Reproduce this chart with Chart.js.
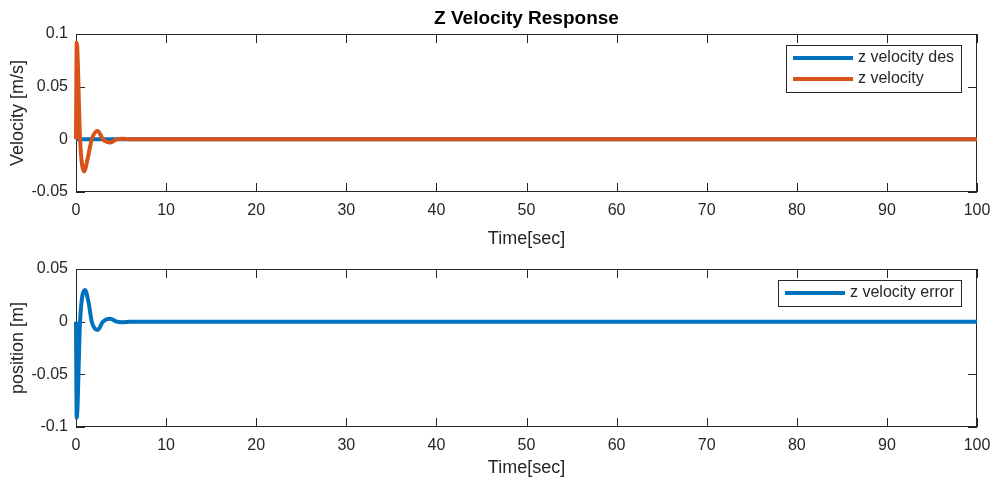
<!DOCTYPE html>
<html>
<head>
<meta charset="utf-8">
<script src="https://cdn.jsdelivr.net/npm/chart.js@4.4.1/dist/chart.umd.min.js"></script>
<style>
  html, body { margin: 0; padding: 0; background: #fff; }
  #wrap { position: relative; width: 993px; height: 479px; overflow: hidden; background: #fff; }
  canvas { position: absolute; left: 0; }
  #velChart { top: 0; }
  #errChart { top: 258px; }
</style>
</head>
<body>
<div id="wrap">
  <canvas id="velChart" width="993" height="258"></canvas>
  <canvas id="errChart" width="993" height="221"></canvas>
</div>
<script>
// ---- text ----
const figureTitle = 'Z Velocity Response';
const timeAxisTitle = 'Time[sec]';
const velAxisTitle = 'Velocity [m/s]';
const errAxisTitle = 'position [m]';

// ---- tick values and labels ----
const timeTicks = [0, 10, 20, 30, 40, 50, 60, 70, 80, 90, 100];
const timeTickLabels = ['0', '10', '20', '30', '40', '50', '60', '70', '80', '90', '100'];
const velTicks = [-0.05, 0, 0.05, 0.1];
const velTickLabels = ['-0.05', '0', '0.05', '0.1'];
const errTicks = [-0.1, -0.05, 0, 0.05];
const errTickLabels = ['-0.1', '-0.05', '0', '0.05'];

// ---- series ----
// desired z velocity (held at zero)
const desTime = [0, 100];
const velocityDes = [0, 0];
// measured z velocity
const velTime = [0, 0.08, 0.45, 0.9, 1.3, 1.75, 2.4, 3.0, 3.8, 4.5, 5.2, 6.0, 100];
const velocity = [0, 0.092, 0.0, -0.0305, -0.018, 0.0, 0.0078, 0.0, -0.0030, 0.0, 0.0005, 0, 0];
// z velocity error
const errTime = [0, 0.08, 0.45, 1.0, 1.4, 1.75, 2.4, 3.0, 3.8, 4.5, 5.1, 6.0, 100];
const velocityError = [0, -0.0913, 0.0, 0.0300, 0.018, 0.0, -0.0078, 0.0, 0.0027, 0.0, -0.0005, 0, 0];

const seriesBlue = '#0072BD';
const seriesOrange = '#D95319';
const axisColor = '#262626';
const fontFamily = '"Liberation Sans", Arial, Helvetica, sans-serif';

Chart.defaults.font.family = fontFamily;
Chart.defaults.color = axisColor;

function toXY(xs, ys) { return xs.map((x, i) => ({ x: x, y: ys[i] })); }

// Box around the plot area with inward ticks on all four sides
const boxAxesPlugin = {
  id: 'boxAxes',
  beforeDatasetsDraw(chart) {
    const { ctx, chartArea: a, scales } = chart;
    const len = 9;
    ctx.save();
    ctx.strokeStyle = axisColor;
    ctx.lineWidth = 1;
    ctx.beginPath();
    scales.x.ticks.forEach(t => {
      const px = Math.round(scales.x.getPixelForValue(t.value)) + 0.5;
      ctx.moveTo(px, a.bottom); ctx.lineTo(px, a.bottom - len);
      ctx.moveTo(px, a.top); ctx.lineTo(px, a.top + len);
    });
    scales.y.ticks.forEach(t => {
      const py = Math.round(scales.y.getPixelForValue(t.value)) + 0.5;
      ctx.moveTo(a.left, py); ctx.lineTo(a.left + len, py);
      ctx.moveTo(a.right, py); ctx.lineTo(a.right - len, py);
    });
    ctx.stroke();
    ctx.strokeRect(Math.round(a.left) + 0.5, Math.round(a.top) + 0.5,
                   Math.round(a.right - a.left) - 1, Math.round(a.bottom - a.top) - 1);
    ctx.restore();
  }
};

// Legend box in the upper right corner of the plot area
const boxLegendPlugin = {
  id: 'boxLegend',
  afterDraw(chart) {
    const { ctx, chartArea: a } = chart;
    const sets = chart.data.datasets;
    ctx.save();
    ctx.font = '16px ' + fontFamily;
    const textW = Math.max(...sets.map(d => ctx.measureText(d.label).width));
    const padL = 7, lineLen = 60, gap = 5, padR = 7, rowH = 21;
    const w = padL + lineLen + gap + textW + padR;
    const h = sets.length * rowH + 5;
    const right = Math.round(a.right - 16);
    const left = Math.round(right - w);
    const top = Math.round(a.top + 11);
    ctx.fillStyle = '#fff';
    ctx.fillRect(left, top, right - left, h);
    ctx.strokeStyle = axisColor;
    ctx.lineWidth = 1;
    ctx.strokeRect(left + 0.5, top + 0.5, right - left, h);
    sets.forEach((d, i) => {
      const cy = top + 13 + rowH * i;
      ctx.strokeStyle = d.borderColor;
      ctx.lineWidth = 4;
      ctx.beginPath();
      ctx.moveTo(left + padL, cy);
      ctx.lineTo(left + padL + lineLen, cy);
      ctx.stroke();
      ctx.fillStyle = axisColor;
      ctx.textBaseline = 'middle';
      ctx.textAlign = 'left';
      ctx.fillText(d.label, left + padL + lineLen + gap, cy);
    });
    ctx.restore();
  }
};

// Figure title above the upper plot
const figTitlePlugin = {
  id: 'figTitle',
  afterDraw(chart, args, opts) {
    if (!opts || !opts.text) return;
    const { ctx, chartArea: a } = chart;
    ctx.save();
    ctx.font = 'bold 19px ' + fontFamily;
    ctx.fillStyle = '#000';
    ctx.textAlign = 'center';
    ctx.textBaseline = 'middle';
    ctx.fillText(opts.text, (a.left + a.right) / 2, 19);
    ctx.restore();
  }
};

function makeOptions(cfg) {
  return {
    responsive: false,
    animation: false,
    devicePixelRatio: 1,
    events: [],
    layout: { padding: { top: cfg.top, right: 16, left: 0, bottom: 0 } },
    elements: { point: { radius: 0 }, line: { borderWidth: 4, cubicInterpolationMode: 'monotone' } },
    plugins: {
      legend: { display: false },
      tooltip: { enabled: false },
      title: { display: false },
      figTitle: { text: cfg.title || '' }
    },
    scales: {
      x: {
        type: 'linear',
        min: 0, max: 100,
        grid: { display: false, drawTicks: false },
        border: { display: false },
        afterBuildTicks: s => { s.ticks = timeTicks.map(v => ({ value: v })); },
        afterFit: s => {
          s.height = cfg.xHeight;
          s.paddingLeft = 0; s.paddingRight = 0;
        },
        ticks: {
          padding: 9,
          maxRotation: 0,
          font: { size: 16 },
          color: axisColor,
          callback: v => timeTickLabels[timeTicks.indexOf(v)]
        },
        title: { display: true, text: timeAxisTitle, font: { size: 18 }, color: axisColor,
                 padding: { top: 0, bottom: cfg.xTitlePad } }
      },
      y: {
        type: 'linear',
        min: cfg.yTicks[0], max: cfg.yTicks[cfg.yTicks.length - 1],
        grid: { display: false, drawTicks: false },
        border: { display: false },
        afterBuildTicks: s => { s.ticks = cfg.yTicks.map(v => ({ value: v })); },
        afterFit: s => {
          s.width = 76;
          s.paddingTop = 0; s.paddingBottom = 0;
        },
        ticks: {
          padding: 8,
          font: { size: 16 },
          color: axisColor,
          callback: v => cfg.yLabels[cfg.yTicks.indexOf(v)]
        },
        title: { display: true, text: cfg.yTitle, font: { size: 18 }, color: axisColor,
                 padding: { top: 7, bottom: 0 } }
      }
    }
  };
}

new Chart(document.getElementById('velChart'), {
  type: 'line',
  data: {
    datasets: [
      { label: 'z velocity des', data: toXY(desTime, velocityDes), borderColor: seriesBlue,
        backgroundColor: seriesBlue, order: 1, clip: 6 },
      { label: 'z velocity', data: toXY(velTime, velocity), borderColor: seriesOrange,
        backgroundColor: seriesOrange, order: 0, clip: 6 }
    ]
  },
  options: makeOptions({ top: 34, xHeight: 258 - 192, xTitlePad: 8, yTicks: velTicks,
                         yLabels: velTickLabels, yTitle: velAxisTitle, title: figureTitle }),
  plugins: [boxAxesPlugin, boxLegendPlugin, figTitlePlugin]
});

new Chart(document.getElementById('errChart'), {
  type: 'line',
  data: {
    datasets: [
      { label: 'z velocity error', data: toXY(errTime, velocityError), borderColor: seriesBlue,
        backgroundColor: seriesBlue, clip: 6 }
    ]
  },
  options: makeOptions({ top: 11, xHeight: 221 - 169, xTitlePad: 0, yTicks: errTicks,
                         yLabels: errTickLabels, yTitle: errAxisTitle }),
  plugins: [boxAxesPlugin, boxLegendPlugin]
});
</script>
</body>
</html>
